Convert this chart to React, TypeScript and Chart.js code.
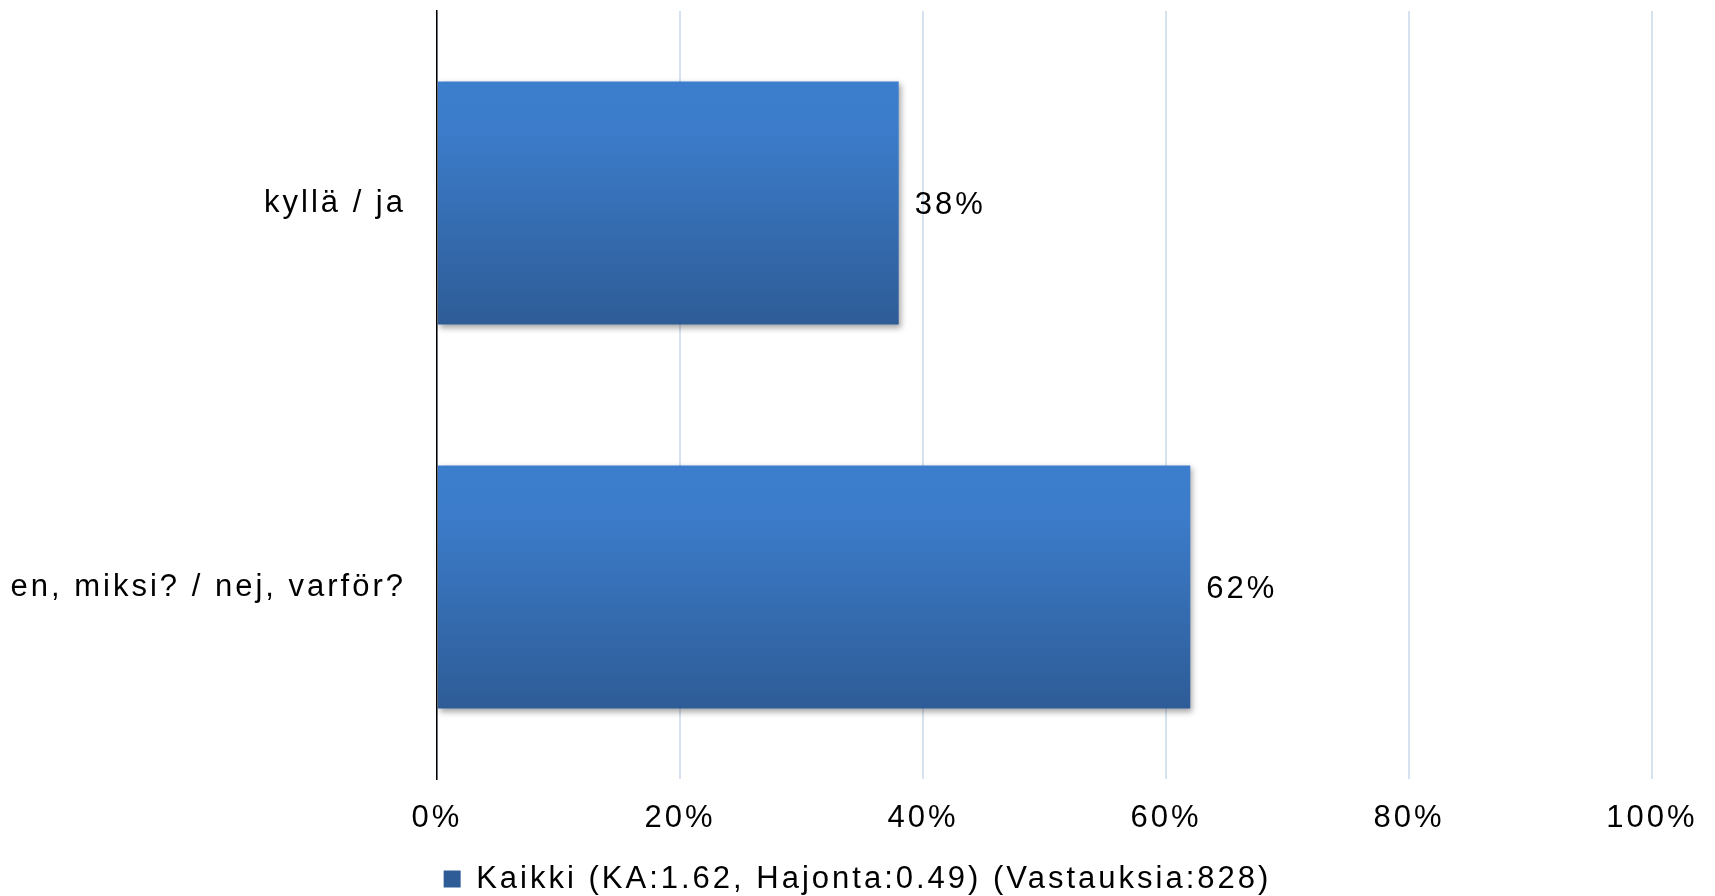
import React, { useEffect, useRef } from "react";
import { Chart, registerables } from "chart.js";

Chart.register(...registerables);

const categories = ["kyllä / ja", "en, miksi? / nej, varför?"];
const values = [38, 62];
const seriesLabel = "Kaikki (KA:1.62, Hajonta:0.49) (Vastauksia:828)";
const xTicks = [0, 20, 40, 60, 80, 100];

const FONT = "'Liberation Sans', Arial, Helvetica, sans-serif";
const SPACING = "3px";
const BAR_PCT = 0.633;

const spacingPlugin = {
  id: "spacing",
  beforeUpdate(chart: any) {
    chart.ctx.letterSpacing = SPACING;
  },
  beforeLayout(chart: any) {
    chart.ctx.letterSpacing = SPACING;
  },
  beforeDraw(chart: any) {
    chart.ctx.letterSpacing = SPACING;
  },
};

const barGradient = (c: any) => {
  const chart = c.chart;
  const area = chart.chartArea;
  const yScale = chart.scales && chart.scales.y;
  if (!area || !yScale) return "#3570B8";
  const center = yScale.getPixelForValue(c.dataIndex);
  const band = area.height / chart.data.labels.length;
  const half = (band * BAR_PCT) / 2;
  const g = chart.ctx.createLinearGradient(0, center - half, 0, center + half);
  g.addColorStop(0, "#3C7ECD");
  g.addColorStop(0.2, "#3C7CCA");
  g.addColorStop(1, "#2E5C97");
  return g;
};

const barStylePlugin = {
  id: "barStyle",
  beforeDatasetsDraw(chart: any) {
    const ctx = chart.ctx;
    ctx.save();
    ctx.shadowColor = "rgba(0,0,0,0.35)";
    ctx.shadowOffsetX = 2;
    ctx.shadowOffsetY = 3;
    ctx.shadowBlur = 6;
  },
  afterDatasetsDraw(chart: any) {
    const ctx = chart.ctx;
    ctx.restore();
    ctx.save();
    ctx.letterSpacing = SPACING;
    ctx.font = `31px ${FONT}`;
    ctx.fillStyle = "#000";
    ctx.textAlign = "left";
    ctx.textBaseline = "middle";
    chart.data.datasets.forEach((d: any, i: number) => {
      const meta = chart.getDatasetMeta(i);
      meta.data.forEach((el: any, j: number) => {
        ctx.fillText(`${d.data[j]}%`, el.x + 16, el.y + 2);
      });
    });
    ctx.restore();
  },
};

export default function App() {
  const ref = useRef<HTMLCanvasElement | null>(null);
  useEffect(() => {
    if (!ref.current) return;
    const chart = new Chart(ref.current, {
      type: "bar",
      data: {
        labels: categories,
        datasets: [
          {
            label: seriesLabel,
            data: values,
            backgroundColor: barGradient,
            borderWidth: 0,
            barPercentage: BAR_PCT,
            categoryPercentage: 1,
          },
        ],
      },
      options: {
        indexAxis: "y",
        animation: false,
        responsive: true,
        maintainAspectRatio: false,
        layout: { padding: { top: 11, right: 0, left: 0, bottom: -8.5 } },
        plugins: {
          tooltip: { enabled: false },
          legend: {
            position: "bottom",
            labels: {
              font: { family: FONT, size: 31, lineHeight: 1 },
              color: "#000",
              boxWidth: 17,
              boxHeight: 17,
              padding: 3.5,
            },
          },
        },
        scales: {
          x: {
            min: 0,
            max: 100,
            afterBuildTicks: (s: any) => {
              s.ticks = xTicks.map((v) => ({ value: v }));
            },
            afterFit: (s: any) => {
              s.height = 81;
              s.paddingLeft = 0;
              s.paddingRight = 63;
            },
            grid: {
              color: "#D6E2F0",
              lineWidth: 2,
              drawTicks: false,
            },
            border: { display: false },
            ticks: {
              padding: 21,
              color: "#000",
              font: { family: FONT, size: 31 },
              callback: (v: any) => `${v}%`,
            },
          },
          y: {
            afterFit: (s: any) => {
              s.width = 437;
              s.paddingTop = 0;
              s.paddingBottom = 0;
            },
            grid: { display: false, drawTicks: false },
            border: { display: true, color: "#000", width: 1.5 },
            ticks: {
              padding: 31,
              color: "#000",
              font: { family: FONT, size: 31 },
            },
          },
        },
      },
      plugins: [spacingPlugin, barStylePlugin],
    } as any);
    return () => chart.destroy();
  }, []);
  return (
    <div style={{ position: "absolute", left: 0, top: 0, width: 1715, height: 896, background: "#fff" }}>
      <canvas ref={ref} />
    </div>
  );
}
